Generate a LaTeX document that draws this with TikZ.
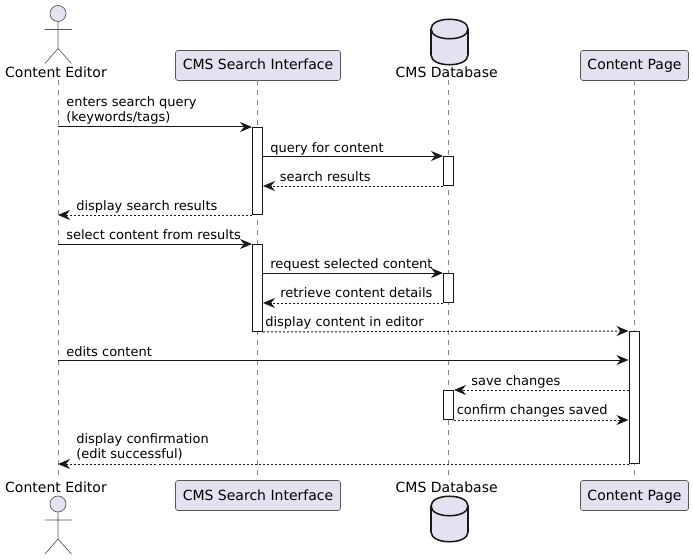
\documentclass[tikz,border=0pt]{standalone}
\usepackage{fontspec}
\setmainfont{DejaVu Sans}
\usetikzlibrary{arrows.meta}
\definecolor{ink}{HTML}{181818}
\definecolor{pfill}{HTML}{E2E2F0}
\definecolor{lifegray}{HTML}{888888}
\definecolor{softink}{HTML}{555555}
\tikzset{
  x=0.75pt,y=-0.75pt,
  pbox/.style={draw=softink,fill=pfill,rounded corners=1.9pt,line width=0.5pt,minimum width=#1*0.75pt,minimum height=22.5pt,inner sep=0pt},
  plabel/.style={anchor=base,inner sep=0pt,font=\fontsize{10.5pt}{12pt}\selectfont,text=black},
  mlabel/.style={anchor=base west,inner sep=0pt,font=\fontsize{9.75pt}{12pt}\selectfont,text=black},
  actv/.style={draw=ink,fill=white,line width=0.75pt,minimum width=7.5pt,minimum height=#1*0.75pt,inner sep=0pt,anchor=north},
  lifeline/.style={draw=lifegray,line width=0.5pt,dash pattern=on 3.75pt off 3.75pt},
  sync/.style={draw=ink,line width=0.75pt,-{Stealth[length=9pt,width=7.5pt,inset=3pt]}},
  reply/.style={sync,dash pattern=on 1.5pt off 1.5pt},
  actorline/.style={draw=softink,line width=0.5pt,line cap=round,fill=none},
  dbshape/.style={draw=ink,fill=pfill,line width=1.15pt},
}
\newcommand{\actorfig}[2]{%
  \draw[actorline,fill=pfill] (#1,#2) circle[radius=6pt];
  \draw[actorline] (#1,#2+8) -- (#1,#2+35) (#1-13,#2+16) -- (#1+13.5,#2+16)
    (#1-13,#2+50) -- (#1,#2+35) -- (#1+13.5,#2+50);}
\newcommand{\dbfig}[2]{%
  \draw[dbshape] (#1-18.5,#2+10) .. controls (#1-18.5,#2-3) and (#1+18.5,#2-3) .. (#1+18.5,#2+10)
    -- (#1+18.5,#2+36) .. controls (#1+18.5,#2+49) and (#1-18.5,#2+49) .. (#1-18.5,#2+36) -- cycle;
  \draw[dbshape,fill=none] (#1-18.5,#2+10) .. controls (#1-18.5,#2+23) and (#1+18.5,#2+23) .. (#1+18.5,#2+10);}
\begin{document}
\begin{tikzpicture}
\useasboundingbox[fill=white] (0,0) rectangle (693,560);
% participants
\coordinate (ceT) at (58,80);
\coordinate (ceB) at (58,476);
\coordinate (dbT) at (448.5,80);
\coordinate (dbB) at (448.5,476);
\node[pbox=165] (siT) at (258,65.5) {};
\node[pbox=165] (siB) at (258,495.5) {};
\node[pbox=108] (cpT) at (634.5,65.5) {};
\node[pbox=108] (cpB) at (634.5,495.5) {};
\coordinate (siL) at (257.5,80);
\coordinate (siE) at (257.5,480);
\coordinate (cpL) at (634.5,80);
\coordinate (cpE) at (634.5,480);
% lifelines
\draw[lifeline] (ceT) -- (ceB);
\draw[lifeline] (siL) -- (siE);
\draw[lifeline] (dbT) -- (dbB);
\draw[lifeline] (cpL) -- (cpE);
\node[plabel] (siTt) at (258,70) {CMS Search Interface};
\node[plabel] (siBt) at (258,500) {CMS Search Interface};
\node[plabel] (cpTt) at (634.5,70) {Content Page};
\node[plabel] (cpBt) at (634.5,500) {Content Page};
% actors and databases
\actorfig{58}{13.5}
\actorfig{58}{504}
\node[plabel] (ceTt) at (56,78) {Content Editor};
\node[plabel] (ceBt) at (56,492.5) {Content Editor};
\dbfig{449.5}{19}
\dbfig{449.5}{496}
\node[plabel] (dbTt) at (446.7,78) {CMS Database};
\node[plabel] (dbBt) at (446.7,492.5) {CMS Database};
% activations
\node[actv=87] (a1) at (257.5,127) {};
\node[actv=29] (d1) at (448.5,156) {};
\node[actv=87] (a2) at (257.5,244) {};
\node[actv=29] (d2) at (448.5,273) {};
\node[actv=132] (c1) at (634,331) {};
\node[actv=29] (d3) at (448.5,390) {};
% messages
\draw[sync] (ceT |- a1.north) -- (a1.north west);
\node[mlabel] (m1a) at (66,107) {enters search query};
\node[mlabel] (m1b) at (66,122) {(keywords/tags)};
\draw[sync] (a1.east |- d1.north) -- (d1.north west);
\node[mlabel] (m2) at (270,152) {query for content};
\draw[reply] (d1.south west) -- (a1.east |- d1.south);
\node[mlabel] (m3) at (279.5,181) {search results};
\draw[reply] (a1.south west) -- (ceT |- a1.south);
\node[mlabel] (m4) at (76,210) {display search results};
\draw[sync] (ceT |- a2.north) -- (a2.north west);
\node[mlabel] (m5) at (66,239) {select content from results};
\draw[sync] (a2.east |- d2.north) -- (d2.north west);
\node[mlabel] (m6) at (270,268) {request selected content};
\draw[reply] (d2.south west) -- (a2.east |- d2.south);
\node[mlabel] (m7) at (280,297) {retrieve content details};
\draw[reply] (a2.south east) -- (c1.north west);
\node[mlabel] (m8) at (265,326) {display content in editor};
\coordinate (e9) at (c1.west |- 0,360);
\draw[sync] (ceT |- e9) -- (e9);
\node[mlabel] (m9) at (66,356) {edits content};
\draw[reply] (c1.west |- d3.north) -- (d3.north east);
\node[mlabel] (m10) at (471,385) {save changes};
\draw[reply] (d3.south east) -- (c1.west |- d3.south);
\node[mlabel] (m11) at (456.5,414) {confirm changes saved};
\draw[reply] (c1.south west) -- (ceT |- c1.south);
\node[mlabel] (m12a) at (76,443) {display confirmation};
\node[mlabel] (m12b) at (76,458) {(edit successful)};
\end{tikzpicture}
\end{document}
